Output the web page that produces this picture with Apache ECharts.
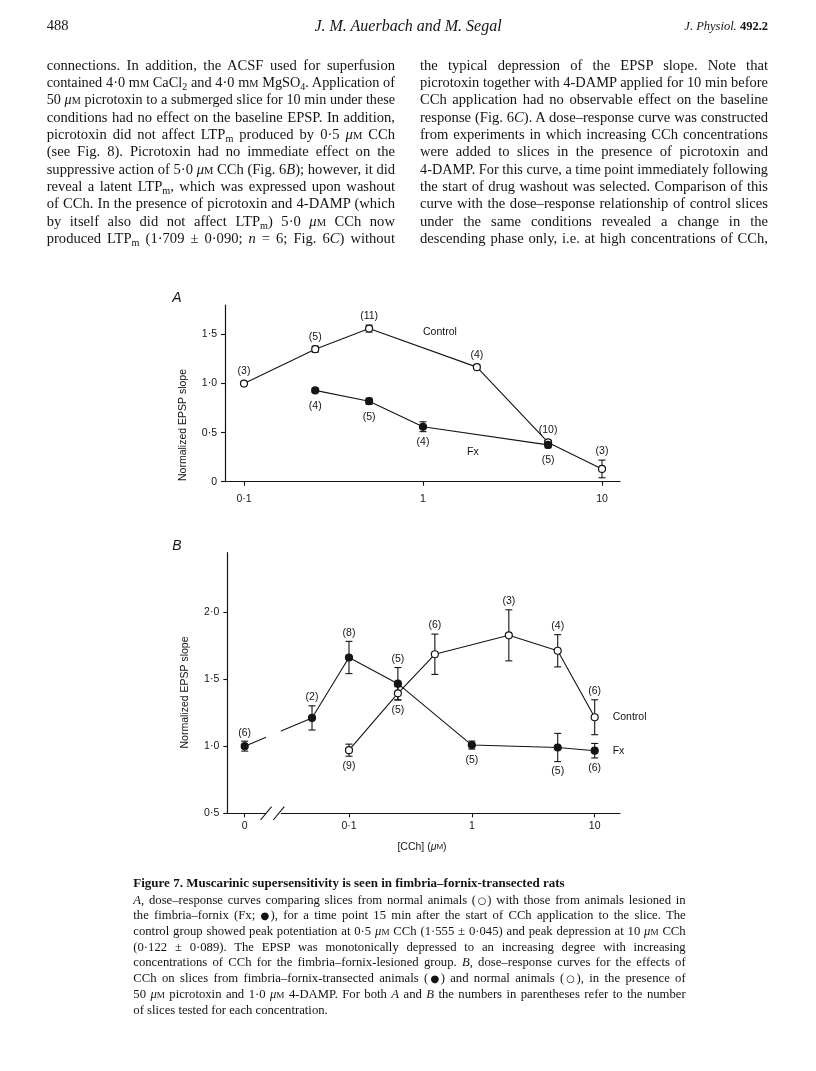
<!DOCTYPE html>
<html>
<head>
<meta charset="utf-8">
<script src="https://cdn.jsdelivr.net/npm/echarts@6/dist/echarts.min.js"></script>
<style>
  html, body { margin: 0; padding: 0; background: #fff; }
  body { width: 816px; height: 1071px; position: relative; overflow: hidden; color: #141414;
         font-family: "Liberation Serif", "Times New Roman", serif; }
  #chart { position: absolute; left: 0; top: 0; width: 816px; height: 1071px; }
  .abs { position: absolute; }
  .col { position: absolute; font-size: 14.6px; line-height: 17.35px; }
  .jl { white-space: nowrap; text-align: justify; text-align-last: justify; height: 17.35px; overflow: visible; }
  .cap { position: absolute; left: 133.3px; width: 552.4px; font-size: 12.7px; line-height: 15.7px; }
  .cap .jl { height: 15.7px; }
  .sc { font-size: 0.72em; }
  .sym { font-family: "DejaVu Sans", sans-serif; font-size: 0.8em; letter-spacing: -0.08em; }
  sub { font-size: 0.7em; line-height: 0; vertical-align: -0.32em; }
  .left { text-align: left !important; text-align-last: left !important; }
</style>
</head>
<body>
<div id="chart"></div>

<div class="abs" style="left:46.7px; top:17px; font-size:14.5px; line-height:17.35px;">488</div>
<div class="abs" style="left:0; width:816px; top:16.5px; text-align:center; font-size:16px; font-style:italic; line-height:17.35px;">J. M. Auerbach and M. Segal</div>
<div class="abs" style="right:48px; top:18px; font-size:12.5px; line-height:17.35px;"><i>J. Physiol.</i> <b>492.2</b></div>

<div class="col" id="lc" style="left:46.7px; top:56.7px; width:348.3px;">
  <div class="jl">connections. In addition, the ACSF used for superfusion</div>
  <div class="jl">contained 4·0 m<span class="sc">M</span> CaCl<sub>2</sub> and 4·0 m<span class="sc">M</span> MgSO<sub>4</sub>. Application of</div>
  <div class="jl">50 <i>μ</i><span class="sc">M</span> picrotoxin to a submerged slice for 10 min under these</div>
  <div class="jl">conditions had no effect on the baseline EPSP. In addition,</div>
  <div class="jl">picrotoxin did not affect LTP<sub>m</sub> produced by 0·5 <i>μ</i><span class="sc">M</span> CCh</div>
  <div class="jl">(see Fig. 8). Picrotoxin had no immediate effect on the</div>
  <div class="jl">suppressive action of 5·0 <i>μ</i><span class="sc">M</span> CCh (Fig. 6<i>B</i>); however, it did</div>
  <div class="jl">reveal a latent LTP<sub>m</sub>, which was expressed upon washout</div>
  <div class="jl">of CCh. In the presence of picrotoxin and 4-DAMP (which</div>
  <div class="jl">by itself also did not affect LTP<sub>m</sub>) 5·0 <i>μ</i><span class="sc">M</span> CCh now</div>
  <div class="jl">produced LTP<sub>m</sub> (1·709 ± 0·090; <i>n</i> = 6; Fig. 6<i>C</i>) without</div>
</div>

<div class="col" id="rc" style="left:420px; top:56.7px; width:348px;">
  <div class="jl">the typical depression of the EPSP slope. Note that</div>
  <div class="jl">picrotoxin together with 4-DAMP applied for 10 min before</div>
  <div class="jl">CCh application had no observable effect on the baseline</div>
  <div class="jl">response (Fig. 6<i>C</i>). A dose–response curve was constructed</div>
  <div class="jl">from experiments in which increasing CCh concentrations</div>
  <div class="jl">were added to slices in the presence of picrotoxin and</div>
  <div class="jl">4-DAMP. For this curve, a time point immediately following</div>
  <div class="jl">the start of drug washout was selected. Comparison of this</div>
  <div class="jl">curve with the dose–response relationship of control slices</div>
  <div class="jl">under the same conditions revealed a change in the</div>
  <div class="jl">descending phase only, i.e. at high concentrations of CCh,</div>
</div>

<div class="abs" style="left:133.3px; top:875px; font-size:13px; font-weight:bold; line-height:15.7px; white-space:nowrap;">Figure 7. Muscarinic supersensitivity is seen in fimbria–fornix-transected rats</div>
<div class="cap" id="cap" style="top:892.7px;">
  <div class="jl"><i>A</i>, dose–response curves comparing slices from normal animals (<span class="sym">○</span>) with those from animals lesioned in</div>
  <div class="jl">the fimbria–fornix (Fx; <span class="sym">●</span>), for a time point 15 min after the start of CCh application to the slice. The</div>
  <div class="jl">control group showed peak potentiation at 0·5 <i>μ</i><span class="sc">M</span> CCh (1·555 ± 0·045) and peak depression at 10 <i>μ</i><span class="sc">M</span> CCh</div>
  <div class="jl">(0·122 ± 0·089). The EPSP was monotonically depressed to an increasing degree with increasing</div>
  <div class="jl">concentrations of CCh for the fimbria–fornix-lesioned group. <i>B</i>, dose–response curves for the effects of</div>
  <div class="jl">CCh on slices from fimbria–fornix-transected animals (<span class="sym">●</span>) and normal animals (<span class="sym">○</span>), in the presence of</div>
  <div class="jl">50 <i>μ</i><span class="sc">M</span> picrotoxin and 1·0 <i>μ</i><span class="sc">M</span> 4-DAMP. For both <i>A</i> and <i>B</i> the numbers in parentheses refer to the number</div>
  <div class="jl left">of slices tested for each concentration.</div>
</div>

<script>
// ---------------- DATA ----------------
// Panel A (15 min after start of CCh application)
const ctrlA_conc = [0.1, 0.25, 0.5, 2, 5, 10];
const ctrlA_val  = [1.0, 1.35, 1.56, 1.167, 0.40, 0.13];
const ctrlA_err  = [0, 0.03, 0.035, 0.02, 0.02, 0.09];
const ctrlA_n    = [3, 5, 11, 4, 10, 3];

const fxA_conc = [0.25, 0.5, 1, 5];
const fxA_val  = [0.93, 0.82, 0.56, 0.375];
const fxA_err  = [0.02, 0.03, 0.05, 0.03];
const fxA_n    = [4, 5, 4, 5];

// Panel B (picrotoxin + 4-DAMP)
const fxB_conc = [0, 0.05, 0.1, 0.25, 1, 5, 10];
const fxB_val  = [1.0, 1.21, 1.66, 1.465, 1.008, 0.99, 0.966];
const fxB_err  = [0.037, 0.09, 0.12, 0.12, 0.03, 0.105, 0.054];
const fxB_n    = [6, 2, 8, 5, 5, 5, 6];
const fxB_labelAbove = [1, 1, 1, 1, 0, 0, 0];

const ctrlB_conc = [0.1, 0.25, 0.5, 2, 5, 10];
const ctrlB_val  = [0.97, 1.393, 1.684, 1.825, 1.71, 1.215];
const ctrlB_err  = [0.045, 0.05, 0.15, 0.19, 0.12, 0.13];
const ctrlB_n    = [9, 5, 6, 3, 4, 6];
const ctrlB_labelAbove = [0, 0, 1, 1, 1, 1];

// Tick labels
const xTicksA = [0.1, 1, 10];
const xTickLabelsA = ['0·1', '1', '10'];
const xTicksB = [0, 0.1, 1, 10];
const xTickLabelsB = ['0', '0·1', '1', '10'];
const yTicksA = [0, 0.5, 1.0, 1.5];
const yTickLabelsA = ['0', '0·5', '1·0', '1·5'];
const yTicksB = [0.5, 1.0, 1.5, 2.0];
const yTickLabelsB = ['0·5', '1·0', '1·5', '2·0'];

// ---------------- SCALES ----------------
// x drawn on a log10 scale; "0" on the broken axis of B sits at ZERO_POS decades
const ZERO_POS = -1.849;
const BREAK_LO = -1.675, BREAK_HI = -1.555;
const xpos = c => (c === 0 ? ZERO_POS : Math.log10(c));

const INK = '#141414';
const SANS = '"Liberation Sans", Arial, Helvetica, sans-serif';
const FS = 10.5;

function fmtFactory(ticks, labels, isX) {
  return v => {
    for (let i = 0; i < ticks.length; i++) {
      const p = isX ? xpos(ticks[i]) : ticks[i];
      if (Math.abs(p - v) < 1e-6) return labels[i];
    }
    return '';
  };
}

function xAxisCfg(gi, min, max, ticks, labels, margin) {
  return {
    gridIndex: gi, type: 'value', min, max,
    axisLine: { onZero: false, lineStyle: { color: INK, width: 1.2 } },
    axisTick: { customValues: ticks.map(xpos), length: 4, lineStyle: { color: INK, width: 1.1 } },
    axisLabel: { customValues: ticks.map(xpos), formatter: fmtFactory(ticks, labels, true),
                 margin, color: INK, fontSize: FS, fontFamily: SANS },
    splitLine: { show: false }
  };
}
function yAxisCfg(gi, min, max, ticks, labels) {
  return {
    gridIndex: gi, type: 'value', min, max,
    axisLine: { show: true, onZero: false, lineStyle: { color: INK, width: 1.2 } },
    axisTick: { show: true, customValues: ticks, length: 4, lineStyle: { color: INK, width: 1.1 } },
    axisLabel: { customValues: ticks, formatter: fmtFactory(ticks, labels, false),
                 margin: 8, color: INK, fontSize: FS, fontFamily: SANS },
    splitLine: { show: false }
  };
}

function lineSeries(gi, conc, vals, open, endLabel) {
  const s = {
    type: 'line', xAxisIndex: gi, yAxisIndex: gi,
    data: conc.map((c, i) => [xpos(c), vals[i]]),
    symbol: 'circle', symbolSize: 7, showSymbol: true,
    lineStyle: { color: INK, width: 1.1 },
    itemStyle: { color: open ? '#fff' : INK, borderColor: INK, borderWidth: 1.2 },
    z: 5, animation: false, silent: true
  };
  if (endLabel) {
    s.endLabel = { show: true, formatter: endLabel, distance: 18, color: INK, fontSize: FS, fontFamily: SANS };
  }
  return s;
}

function errSeries(gi, conc, vals, errs, ns, above) {
  return {
    type: 'custom', xAxisIndex: gi, yAxisIndex: gi, z: 3, clip: false, animation: false, silent: true,
    data: conc.map((c, i) => [xpos(c), vals[i], errs[i], ns[i], above[i]]),
    encode: { x: 0, y: 1 },
    renderItem: (params, api) => {
      const x = api.value(0), y = api.value(1), e = api.value(2), n = api.value(3), up = api.value(4);
      const pt = api.coord([x, y]);
      const children = [];
      let ePx = 0;
      if (e > 0) {
        const t = api.coord([x, y + e]), b = api.coord([x, y - e]);
        ePx = (b[1] - t[1]) / 2;
        const st = { stroke: INK, lineWidth: 1.1 };
        children.push({ type: 'line', shape: { x1: pt[0], y1: t[1], x2: pt[0], y2: b[1] }, style: st });
        children.push({ type: 'line', shape: { x1: pt[0] - 3.5, y1: t[1], x2: pt[0] + 3.5, y2: t[1] }, style: st });
        children.push({ type: 'line', shape: { x1: pt[0] - 3.5, y1: b[1], x2: pt[0] + 3.5, y2: b[1] }, style: st });
      }
      const ty = up ? pt[1] - Math.max(ePx, 3.5) - 8.5 : pt[1] + Math.max(ePx, 5.5) + 10;
      children.push({ type: 'text', x: pt[0], y: ty,
        style: { text: '(' + n + ')', fill: INK, fontSize: FS, fontFamily: SANS, align: 'center', verticalAlign: 'middle' } });
      return { type: 'group', children };
    }
  };
}

const chart = echarts.init(document.getElementById('chart'), null, { renderer: 'canvas' });
chart.setOption({
  animation: false,
  backgroundColor: 'transparent',
  grid: [
    { left: 225, top: 305, width: 395, height: 176.7 },
    { left: 227.3, top: 552.7, width: 392.7, height: 260.6 }
  ],
  xAxis: [
    xAxisCfg(0, -1.106, 1.1006, xTicksA, xTickLabelsA, 12),
    xAxisCfg(1, -1.9906, 1.206, xTicksB, xTickLabelsB, 7)
  ],
  yAxis: [
    yAxisCfg(0, 0, 1.8, yTicksA, yTickLabelsA),
    yAxisCfg(1, 0.5, 2.44, yTicksB, yTickLabelsB)
  ],
  series: [
    errSeries(0, ctrlA_conc, ctrlA_val, ctrlA_err, ctrlA_n, ctrlA_conc.map(() => 1)),
    errSeries(0, fxA_conc, fxA_val, fxA_err, fxA_n, fxA_conc.map(() => 0)),
    lineSeries(0, ctrlA_conc, ctrlA_val, true),
    lineSeries(0, fxA_conc, fxA_val, false),
    errSeries(1, fxB_conc, fxB_val, fxB_err, fxB_n, fxB_labelAbove),
    errSeries(1, ctrlB_conc, ctrlB_val, ctrlB_err, ctrlB_n, ctrlB_labelAbove),
    lineSeries(1, fxB_conc, fxB_val, false, 'Fx'),
    lineSeries(1, ctrlB_conc, ctrlB_val, true, 'Control')
  ]
});

// annotations placed through the grids' scales
const pB = (x, y) => chart.convertToPixel({ gridIndex: 1 }, [x, y]);
const lo = pB(BREAK_LO, 0.5), hi = pB(BREAK_HI, 0.5), topB = pB(BREAK_LO, 1.25);
const axY = lo[1];
const slash = (cx, z) => ({ type: 'line', z, shape: { x1: cx - 5.5, y1: axY + 6.7, x2: cx + 5.5, y2: axY - 6.7 },
                           style: { stroke: INK, lineWidth: 1.1 } });

chart.setOption({
  graphic: [
    { type: 'rect', z: 100, shape: { x: lo[0], y: topB[1], width: hi[0] - lo[0], height: axY - topB[1] + 3 },
      style: { fill: '#fff' } },
    slash(lo[0], 101), slash(hi[0] - 2, 101),
    { type: 'text', x: 177, y: 298, style: { text: 'A', font: 'italic 14px ' + SANS, fill: INK, align: 'center', verticalAlign: 'middle' } },
    { type: 'text', x: 177, y: 546, style: { text: 'B', font: 'italic 14px ' + SANS, fill: INK, align: 'center', verticalAlign: 'middle' } },
    { type: 'text', x: 183, y: 425, rotation: Math.PI / 2,
      style: { text: 'Normalized EPSP slope', fontSize: FS, fontFamily: SANS, fill: INK, align: 'center', verticalAlign: 'middle' } },
    { type: 'text', x: 185, y: 692.5, rotation: Math.PI / 2,
      style: { text: 'Normalized EPSP slope', fontSize: FS, fontFamily: SANS, fill: INK, align: 'center', verticalAlign: 'middle' } },
    { type: 'text', x: 423, y: 332,
      style: { text: 'Control', fontSize: FS, fontFamily: SANS, fill: INK, align: 'left', verticalAlign: 'middle' } },
    { type: 'text', x: 467, y: 452,
      style: { text: 'Fx', fontSize: FS, fontFamily: SANS, fill: INK, align: 'left', verticalAlign: 'middle' } },
    { type: 'text', x: 422, y: 846.7,
      style: { text: '[CCh] ({mu|μ}{sc|M})', fontSize: FS, fontFamily: SANS, fill: INK, align: 'center', verticalAlign: 'middle',
               rich: { mu: { fontStyle: 'italic', fontSize: FS, fontFamily: SANS, fill: INK }, sc: { fontSize: 8, fontFamily: SANS, fill: INK } } } }
  ]
});

// keep each justified text line on one line
document.querySelectorAll('.jl').forEach(el => {
  let fs = parseFloat(getComputedStyle(el).fontSize);
  let guard = 0;
  while (el.scrollWidth > el.clientWidth + 0.5 && guard < 40) {
    fs -= 0.15; el.style.fontSize = fs + 'px'; guard++;
  }
});
</script>
</body>
</html>
